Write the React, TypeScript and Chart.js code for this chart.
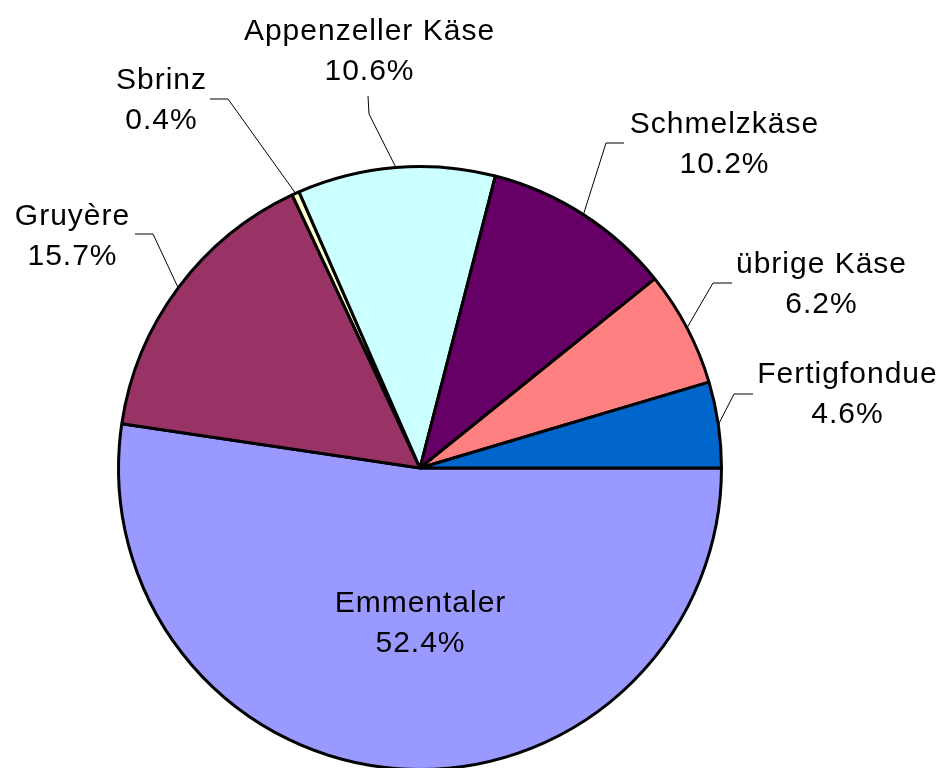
import React, { useEffect, useRef } from "react";
import { Chart, registerables } from "chart.js";

Chart.register(...registerables);

// Data (clockwise from 3 o'clock)
const categories = ["Emmentaler", "Gruyère", "Sbrinz", "Appenzeller Käse", "Schmelzkäse", "übrige Käse", "Fertigfondue"];
const shares = [52.4, 15.7, 0.4, 10.6, 10.2, 6.2, 4.6];
const sliceColors = ["#9999FF", "#993366", "#FFFFCC", "#CCFFFF", "#660066", "#FF8080", "#0066CC"];

// Label layout relative to pie centre (text centre x, first baseline y, leader elbow, leader end)
const labelLayout = [
  { tx: 0, ty: 144, leader: null },
  { tx: -348, ty: -243, leader: [[-267, -234], [-285, -234]] },
  { tx: -259, ty: -379, leader: [[-192, -369], [-210, -369]] },
  { tx: -51, ty: -428, leader: [[-51, -354], [-52, -372]] },
  { tx: 304, ty: -335, leader: [[186, -325], [204, -325]] },
  { tx: 401, ty: -195, leader: [[293, -185], [312, -185]] },
  { tx: 427, ty: -85, leader: [[314, -74], [333, -74]] },
];

const FONT = "30px 'Liberation Sans', Arial, sans-serif";
const LINE_GAP = 40;

const labelPlugin = {
  id: "pieLabels",
  afterDatasetsDraw(chart: any) {
    const ctx = chart.ctx;
    const meta = chart.getDatasetMeta(0);
    const data = chart.data.datasets[0].data as number[];
    ctx.save();
    meta.data.forEach((arc: any, i: number) => {
      const p = arc.getProps(["x", "y", "startAngle", "endAngle", "outerRadius"], true);
      const cx = p.x, cy = p.y;
      const layout = labelLayout[i];
      if (layout.leader) {
        const mid = (p.startAngle + p.endAngle) / 2;
        const ex = cx + p.outerRadius * Math.cos(mid);
        const ey = cy + p.outerRadius * Math.sin(mid);
        ctx.beginPath();
        ctx.strokeStyle = "#000";
        ctx.lineWidth = 1;
        ctx.moveTo(ex, ey);
        ctx.lineTo(cx + layout.leader[0][0], cy + layout.leader[0][1]);
        ctx.lineTo(cx + layout.leader[1][0], cy + layout.leader[1][1]);
        ctx.stroke();
      }
      ctx.font = FONT;
      try { (ctx as any).letterSpacing = "1px"; } catch (e) {}
      ctx.fillStyle = "#000";
      ctx.textAlign = "center";
      ctx.textBaseline = "alphabetic";
      const pct = data[i].toFixed(1) + "%";
      ctx.fillText(chart.data.labels[i], cx + layout.tx + 0.5, cy + layout.ty);
      ctx.fillText(pct, cx + layout.tx + 0.5, cy + layout.ty + LINE_GAP);
    });
    ctx.restore();
  },
};

export default function App() {
  const ref = useRef<HTMLCanvasElement>(null);
  useEffect(() => {
    document.body.style.margin = "0";
    const chart = new Chart(ref.current as HTMLCanvasElement, {
      type: "pie",
      data: {
        labels: categories,
        datasets: [
          {
            data: shares,
            backgroundColor: sliceColors,
            borderColor: "#000000",
            borderWidth: 3,
            borderAlign: "center",
          },
        ],
      },
      options: {
        responsive: false,
        animation: false,
        rotation: 90,
        layout: { padding: { left: 117, right: 222, top: 165, bottom: 29 } },
        plugins: {
          legend: { display: false },
          tooltip: { enabled: false },
          title: { display: false },
        },
      },
      plugins: [labelPlugin],
    });
    return () => chart.destroy();
  }, []);
  return (
    <div style={{ position: "fixed", left: 0, top: 0, width: 945, height: 768, overflow: "hidden", background: "#fff" }}>
      <canvas ref={ref} width={945} height={800} style={{ width: 945, height: 800, display: "block" }} />
    </div>
  );
}
